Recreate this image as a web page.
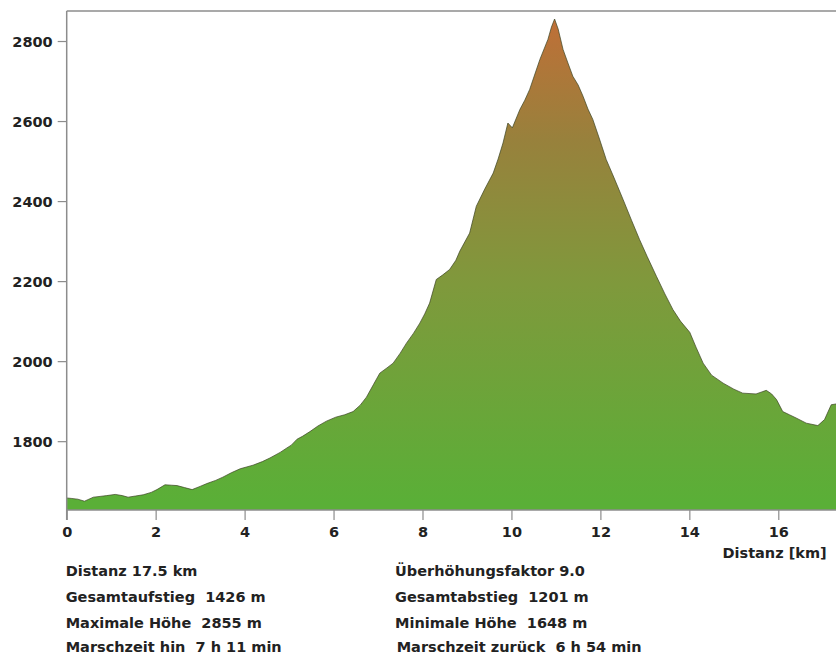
<!DOCTYPE html>
<html>
  <head>
    <meta charset="utf-8" />
    <script src="https://d3js.org/d3.v7.min.js"></script>
    <title>Höhenprofil</title>
    <style>
      body {
        margin: 0px;
        background: #ffffff;
        font-family: 'DejaVu Sans', sans-serif;
      }
      .info {
        fill: #222;
        font-size: 14.5px;
        font-weight: bold;
        white-space: pre;
      }
    </style>
  </head>
  <body>
    <script>
      // profile: distance (km) / elevation (m)
      const distKm = [
        0.0, 0.1, 0.25, 0.4, 0.5, 0.6, 0.75, 0.9, 1.09, 1.25, 1.38, 1.55,
        1.72, 1.9, 2.03, 2.21, 2.35, 2.48, 2.65, 2.82, 3.0, 3.15, 3.35,
        3.51, 3.7, 3.9, 4.19, 4.4, 4.57, 4.8, 4.95, 5.05, 5.18, 5.3, 5.47,
        5.65, 5.84, 6.05, 6.25, 6.44, 6.6, 6.74, 6.9, 7.04, 7.2, 7.34, 7.5,
        7.64, 7.8, 7.94, 8.05, 8.16, 8.31, 8.45, 8.61, 8.75, 8.84, 9.06,
        9.21, 9.4, 9.59, 9.7, 9.81, 9.92, 10.02, 10.19, 10.3, 10.41, 10.52,
        10.64, 10.82, 10.9, 10.97, 11.05, 11.16, 11.27, 11.38, 11.5, 11.61,
        11.72, 11.83, 11.98, 12.13, 12.3, 12.51, 12.7, 12.88, 13.05, 13.26,
        13.45, 13.63, 13.8, 14.01, 14.15, 14.31, 14.5, 14.76, 15.0, 15.2,
        15.5, 15.73, 15.85, 15.96, 16.1, 16.25, 16.4, 16.63, 16.89, 17.04,
        17.19, 17.3, 17.5,
      ];
      const elevM = [
        1658, 1657, 1655, 1650, 1655, 1660, 1662, 1664, 1667, 1664, 1660,
        1663, 1666, 1672, 1679, 1691, 1690, 1689, 1684, 1679, 1687, 1694,
        1702, 1710, 1721, 1731, 1740, 1749, 1758, 1772, 1783, 1790, 1805,
        1812, 1824, 1838, 1850, 1860, 1866, 1874, 1890, 1910, 1942, 1970,
        1983, 1995, 2020, 2045, 2070, 2095, 2118, 2145, 2204, 2215, 2229,
        2252, 2275, 2320, 2387, 2430, 2470, 2505, 2545, 2595, 2583, 2629,
        2652, 2679, 2715, 2754, 2804, 2835, 2855, 2830, 2779, 2745, 2712,
        2690, 2662, 2630, 2604, 2555, 2504, 2460, 2404, 2352, 2304, 2262,
        2212, 2168, 2129, 2100, 2072, 2035, 1995, 1965, 1945, 1930, 1920,
        1918, 1927, 1918, 1904, 1874, 1866, 1858, 1845, 1839, 1854, 1891,
        1893, 1885,
      ];
      const xTicks = [0, 2, 4, 6, 8, 10, 12, 14, 16];
      const yTicks = [1800, 2000, 2200, 2400, 2600, 2800];
      const infoLeft = [
        'Distanz 17.5 km',
        'Gesamtaufstieg  1426 m',
        'Maximale Höhe  2855 m',
        'Marschzeit hin  7 h 11 min',
      ];
      const infoRight = [
        'Überhöhungsfaktor 9.0',
        'Gesamtabstieg  1201 m',
        'Minimale Höhe  1648 m',
        'Marschzeit zurück  6 h 54 min',
      ];
      const xLabel = 'Distanz [km]';

      const width = 836;
      const height = 657;
      const plot = { left: 66.7, right: 845, top: 11, bottom: 510 };
      const axisColor = '#8c8c8c';

      const data = distKm.map((d, i) => ({ d, e: elevM[i] }));

      const svg = d3
        .select('body')
        .append('svg')
        .attr('width', width)
        .attr('height', height);

      const xScale = d3
        .scaleLinear()
        .domain([0, 17.5])
        .range([plot.left, plot.right]);
      const yScale = d3
        .scaleLinear()
        .domain([1628, 2875])
        .range([plot.bottom, plot.top]);

      // colour by height: green in the valley, brown at the summit
      const grad = svg
        .append('defs')
        .append('linearGradient')
        .attr('id', 'hgrad')
        .attr('gradientUnits', 'userSpaceOnUse')
        .attr('x1', 0)
        .attr('x2', 0)
        .attr('y1', yScale(1648))
        .attr('y2', yScale(2855));
      grad.append('stop').attr('offset', '0%').attr('stop-color', '#5aaf37');
      grad.append('stop').attr('offset', '45%').attr('stop-color', '#7f993c');
      grad.append('stop').attr('offset', '75%').attr('stop-color', '#98813c');
      grad.append('stop').attr('offset', '100%').attr('stop-color', '#bf6f37');

      const area = d3
        .area()
        .x((p) => xScale(p.d))
        .y0(plot.bottom)
        .y1((p) => yScale(p.e));
      const line = d3
        .line()
        .x((p) => xScale(p.d))
        .y((p) => yScale(p.e));

      svg
        .append('path')
        .attr('d', area(data))
        .attr('fill', 'url(#hgrad)');
      svg
        .append('path')
        .attr('d', line(data))
        .attr('fill', 'none')
        .attr('stroke', '#3a4322')
        .attr('stroke-opacity', 0.7)
        .attr('stroke-width', 1);

      // frame: top border, left axis
      svg
        .append('line')
        .attr('x1', plot.left)
        .attr('x2', width)
        .attr('y1', plot.top)
        .attr('y2', plot.top)
        .attr('stroke', axisColor)
        .attr('stroke-width', 1.5);

      const xAxis = d3
        .axisBottom(xScale)
        .tickValues(xTicks)
        .tickFormat(d3.format('d'))
        .tickSize(10)
        .tickSizeOuter(0)
        .tickPadding(7);
      const yAxis = d3
        .axisLeft(yScale)
        .tickValues(yTicks)
        .tickFormat(d3.format('d'))
        .tickSize(9)
        .tickSizeOuter(0)
        .tickPadding(5);

      const xAxisG = svg
        .append('g')
        .attr('transform', `translate(0,${plot.bottom})`)
        .call(xAxis);
      const yAxisG = svg
        .append('g')
        .attr('transform', `translate(${plot.left},0)`)
        .call(yAxis);

      xAxisG.select('.domain').attr('d', `M${plot.left},0H${width}`);
      yAxisG
        .select('.domain')
        .attr('d', `M0,${plot.top}V${plot.bottom + 10}`);
      svg
        .selectAll('.domain')
        .attr('stroke', axisColor)
        .attr('stroke-width', 1.5);
      svg
        .selectAll('.tick line')
        .attr('stroke', axisColor)
        .attr('stroke-width', 1.2);
      svg
        .selectAll('.tick text')
        .attr('fill', '#222')
        .style('font-family', "'DejaVu Sans', sans-serif")
        .style('font-size', '14.5px')
        .style('font-weight', 'bold');
      yAxisG.selectAll('.tick text').attr('dy', '0.36em');

      svg
        .append('text')
        .attr('class', 'info')
        .attr('x', 826.7)
        .attr('y', 558)
        .attr('text-anchor', 'end')
        .text(xLabel);

      const rowY = [576, 602, 627.5, 652];
      svg
        .selectAll('.info-left')
        .data(infoLeft)
        .enter()
        .append('text')
        .attr('class', 'info info-left')
        .attr('x', 65.7)
        .attr('y', (d, i) => rowY[i])
        .text((d) => d);
      svg
        .selectAll('.info-right')
        .data(infoRight)
        .enter()
        .append('text')
        .attr('class', 'info info-right')
        .attr('x', (d, i) => (i === 3 ? 396.7 : 395))
        .attr('y', (d, i) => rowY[i])
        .text((d) => d);
    </script>
  </body>
</html>
